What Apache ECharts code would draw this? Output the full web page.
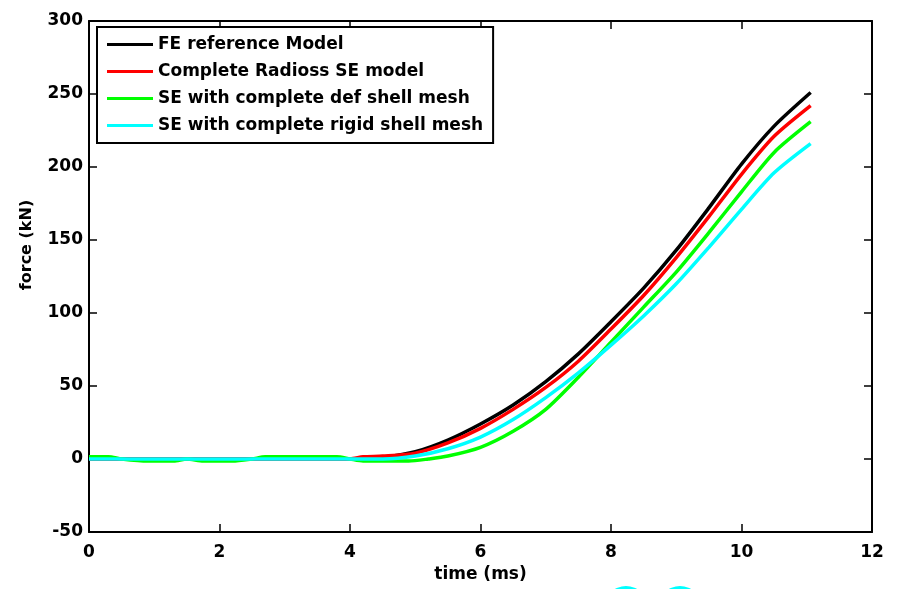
<!DOCTYPE html>
<html>
<head>
<meta charset="utf-8">
<script src="https://cdn.jsdelivr.net/npm/echarts@6/dist/echarts.min.js"></script>
<style>
  html, body { margin: 0; padding: 0; background: #fff; }
  #chart { width: 902px; height: 589px; }
</style>
</head>
<body>
<div id="chart"></div>
<script>
// time (ms) / force (kN)
const seriesNames = [
  'FE reference Model',
  'Complete Radioss SE model',
  'SE with complete def shell mesh',
  'SE with complete rigid shell mesh'
];
const seriesColors = ['#000000', '#ff0000', '#00ff00', '#00ffff'];

const timeFE = [0, 4.2, 4.5, 5, 5.5, 6, 6.5, 7, 7.5, 8, 8.5, 9, 9.5, 10, 10.5, 11.06];
const forceFE = [0, 0, 1, 5, 13, 24, 37, 53, 72, 94, 117, 143, 172, 202, 228, 251];

const timeRad = [0, 4, 4.2, 4.5, 5, 5.5, 6, 6.5, 7, 7.5, 8, 8.5, 9, 9.5, 10, 10.5, 11.06];
const forceRad = [0, 0, 1.5, 2, 4, 11, 21, 34, 49, 67, 89, 112, 138, 166, 195, 221, 242];

const timeDef = [0, 0.3, 0.5, 0.9, 1.3, 1.5, 1.75, 2.2, 2.5, 2.7, 3.8, 4, 4.2, 4.9, 5.2, 5.5, 6, 6.5, 7, 7.5, 8, 8.5, 9, 9.5, 10, 10.5, 11.06];
const forceDef = [1.5, 1.5, 0, -1.4, -1.4, 0, -1.4, -1.4, 0, 1.5, 1.5, 0, -1.4, -1.4, 0, 2, 8, 19, 34, 56, 80, 104, 128, 155, 183, 210, 231];

const timeRigid = [0, 4.5, 5, 5.5, 6, 6.5, 7, 7.5, 8, 8.5, 9, 9.5, 10, 10.5, 11.06];
const forceRigid = [0, 0, 2, 7, 15, 27, 42, 59, 78, 98, 120, 145, 171, 196, 216];

const xTicks = { min: 0, max: 12, interval: 2 };
const yTicks = { min: -50, max: 300, interval: 50 };

function pairs(t, f) {
  return t.map((x, i) => [x, f[i]]);
}
const allData = [
  pairs(timeFE, forceFE),
  pairs(timeRad, forceRad),
  pairs(timeDef, forceDef),
  pairs(timeRigid, forceRigid)
];

const font = 'DejaVu Sans';
const chart = echarts.init(document.getElementById('chart'));

const frameAxis = {
  axisLine: { show: true, onZero: false, lineStyle: { color: '#000', width: 2 } },
  axisTick: { show: true, inside: true, length: 8, lineStyle: { color: '#000', width: 1.5 } },
  splitLine: { show: false }
};

chart.setOption({
  backgroundColor: '#fff',
  animation: false,
  grid: { left: 89, right: 30, top: 21, bottom: 57 },
  legend: {
    orient: 'vertical',
    left: 97,
    top: 27,
    padding: [8, 10, 8, 10],
    icon: 'rect',
    itemWidth: 46,
    itemHeight: 3,
    itemGap: 8,
    borderColor: '#000',
    borderWidth: 2,
    backgroundColor: '#fff',
    textStyle: { fontFamily: font, fontWeight: 'bold', fontSize: 17, color: '#000', lineHeight: 19 },
    data: seriesNames
  },
  xAxis: [
    Object.assign({
      type: 'value', min: xTicks.min, max: xTicks.max, interval: xTicks.interval,
      name: 'time (ms)', nameLocation: 'middle', nameGap: 34,
      nameTextStyle: { fontFamily: font, fontWeight: 'bold', fontSize: 17, color: '#000' },
      axisLabel: { fontFamily: font, fontWeight: 'bold', fontSize: 17, color: '#000', margin: 12 }
    }, frameAxis),
    Object.assign({
      type: 'value', position: 'top', min: xTicks.min, max: xTicks.max, interval: xTicks.interval,
      axisLabel: { show: false }
    }, frameAxis)
  ],
  yAxis: [
    Object.assign({
      type: 'value', min: yTicks.min, max: yTicks.max, interval: yTicks.interval,
      axisLabel: { fontFamily: font, fontWeight: 'bold', fontSize: 17, color: '#000', margin: 6 }
    }, frameAxis),
    Object.assign({
      type: 'value', position: 'right', min: yTicks.min, max: yTicks.max, interval: yTicks.interval,
      axisLabel: { show: false }
    }, frameAxis)
  ],
  graphic: [
    {
      type: 'text', x: 27, y: 245, rotation: Math.PI / 2,
      style: { text: 'force (kN)', font: 'bold 16px "DejaVu Sans"', fill: '#000', align: 'center', verticalAlign: 'middle' }
    },
    { type: 'circle', shape: { cx: 626, cy: 608, r: 22 }, style: { fill: '#00ffff' }, silent: true },
    { type: 'circle', shape: { cx: 680, cy: 608, r: 22 }, style: { fill: '#00ffff' }, silent: true }
  ],
  series: seriesNames.map((name, i) => ({
    name: name,
    type: 'line',
    data: allData[i],
    showSymbol: false,
    symbol: 'none',
    smooth: 0.25,
    color: seriesColors[i],
    lineStyle: { width: 3.5, color: seriesColors[i] },
    z: 2 + i
  }))
});
</script>
</body>
</html>
